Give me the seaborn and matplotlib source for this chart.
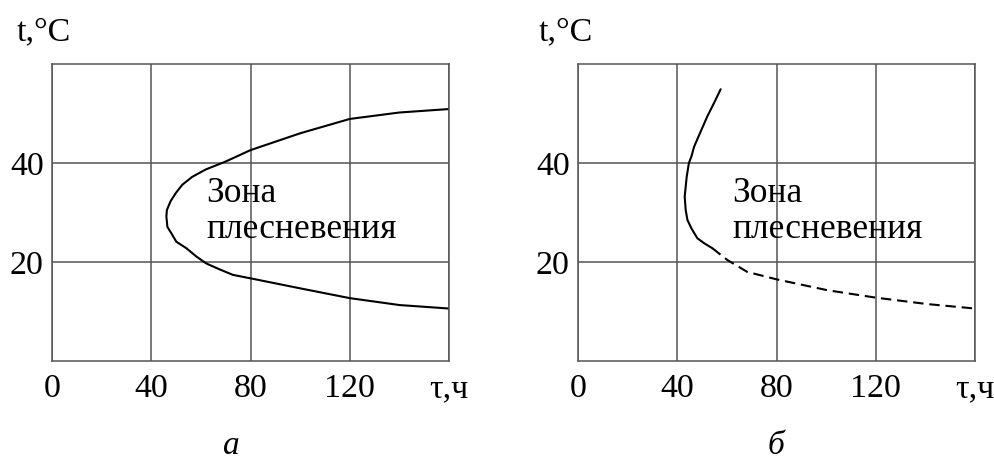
import matplotlib
matplotlib.use("Agg")
import matplotlib.pyplot as plt
import seaborn as sns
import numpy as np
import pandas as pd

# ---- data ----
x_ticks = [0, 40, 80, 120, 160]
x_tick_labels = ["0", "40", "80", "120", "τ,ч"]
y_ticks = [20, 40]
y_tick_labels = ["20", "40"]

# panel a: mould zone boundary (closed on the left)
a_tau = [160, 140, 120, 100, 90, 80, 70, 62, 56.5, 52.5, 50.0, 47.8, 46.3, 46.1,
         46.5, 48.1, 50.1, 54.1, 58.2, 62.2, 67.6, 72.9, 80, 99.8, 120, 140.1, 160]
a_temp = [50.9, 50.2, 48.9, 46.0, 44.3, 42.6, 40.3, 38.7, 37.2, 35.6, 34.0, 32.3, 30.5, 29.2,
          27.1, 25.8, 24.1, 22.8, 21.1, 19.7, 18.5, 17.4, 16.7, 14.7, 12.7, 11.3, 10.6]

# panel б: solid part
b_solid_tau = [57.5, 54.8, 52.1, 49.4, 46.8, 45.7, 44.7, 43.8, 43.4, 43.0, 43.4,
               44.1, 45.7, 48.1, 50.8, 54.1]
b_solid_temp = [54.9, 52.1, 49.4, 46.3, 43.3, 41.3, 40.0, 37.2, 35.2, 33.2, 30.5,
                28.5, 26.8, 24.8, 23.8, 22.8]
# panel б: dashed part
b_dash_tau = [54.1, 60.2, 68.2, 80, 100.5, 120, 140.8, 160]
b_dash_temp = [22.8, 20.4, 18.0, 16.5, 14.3, 12.8, 11.5, 10.6]

panel_labels = ["а", "б"]
axis_y_label = "t,°C"
zone_text = "Зона\nплесневения"

sns.set_theme(style="white")
plt.rcParams["font.family"] = ["Liberation Serif", "DejaVu Serif"]

fig = plt.figure(figsize=(9.94, 4.59), dpi=100)
W, H = 994, 459
ax_a = fig.add_axes([52 / W, (H - 361) / H, 397 / W, 297 / H])
ax_b = fig.add_axes([578 / W, (H - 361) / H, 397 / W, 297 / H])

grid_color = "#555555"
sns.lineplot(x=a_tau, y=a_temp, sort=False, estimator=None, ax=ax_a,
             color="black", linewidth=1.5)
sns.lineplot(x=b_solid_tau, y=b_solid_temp, sort=False, estimator=None, ax=ax_b,
             color="black", linewidth=1.5)
sns.lineplot(x=b_dash_tau, y=b_dash_temp, sort=False, estimator=None, ax=ax_b,
             color="black", linewidth=1.5)
ax_b.lines[-1].set_dashes([5.0, 2.8])

for ax, lab, lab_x, ylab_x in [(ax_a, panel_labels[0], 0.453, -0.088),
                               (ax_b, panel_labels[1], 0.499, -0.098)]:
    ax.set_xlim(0, 160)
    ax.set_ylim(0, 60)
    ax.set_xticks(x_ticks)
    ax.set_xticklabels(x_tick_labels, fontsize=24.5)
    ax.set_yticks(y_ticks)
    ax.set_yticklabels(y_tick_labels, fontsize=24.5)
    ax.tick_params(axis="x", length=0, pad=9, colors="black")
    ax.tick_params(axis="y", length=0, pad=6, colors="black")
    ax.grid(True, color=grid_color, linewidth=1.1)
    for s in ax.spines.values():
        s.set_visible(True)
        s.set_color(grid_color)
        s.set_linewidth(1.1)
    ax.set_xlabel("")
    ax.set_ylabel("")
    ax.text(ylab_x, 1.108, axis_y_label, transform=ax.transAxes,
            ha="left", va="center", fontsize=24.5, color="black")
    ax.text(62.2, 30.2, zone_text, ha="left", va="center", fontsize=25.5,
            color="black", linespacing=1.12)
    ax.text(lab_x, -0.285, lab, transform=ax.transAxes, ha="center", va="center",
            fontsize=24, style="italic", color="black")

fig.savefig("out.png", dpi=100)
